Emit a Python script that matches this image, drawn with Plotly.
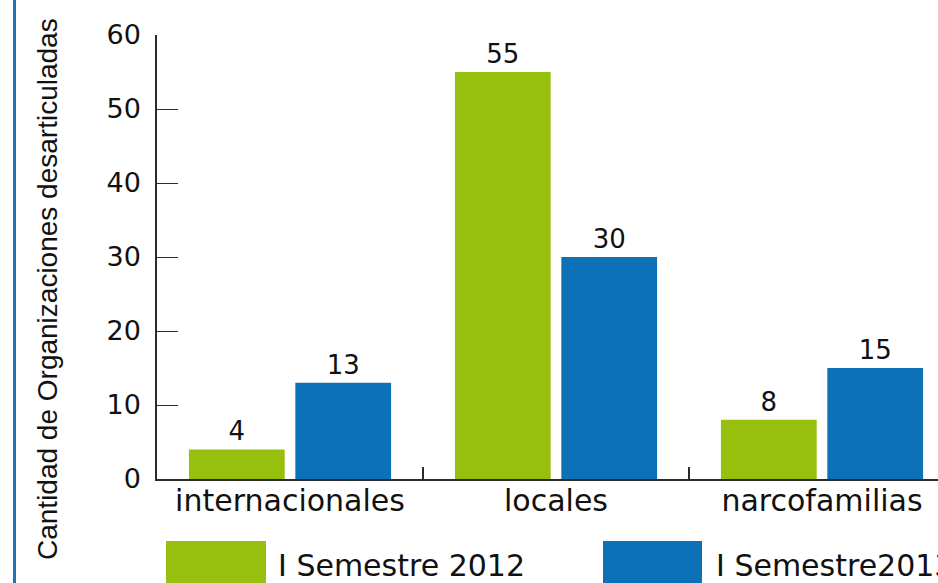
import plotly.graph_objects as go

# Data
categories = ["internacionales", "locales", "narcofamilias"]
series_names = ["I Semestre 2012", "I Semestre2013"]
values_2012 = [4, 55, 8]
values_2013 = [13, 30, 15]

COLORS = {
    "green": "#97BF0D",
    "blue": "#0C71B6",
    "border": "#1B75BB",
    "axis": "#2B2B2B",
    "text": "#111111",
}

W, H = 938, 583
L, R, T, B = 157, 0, 35, 104
PLOT_W = W - L - R
PLOT_H = H - T - B
MAIN_FONT = "DejaVu Sans, Open Sans, sans-serif"
TITLE_FONT = "Liberation Sans, Arial, sans-serif"


def px_x(x):
    # pixel -> paper x
    return (x - L) / PLOT_W


def px_y(y):
    # pixel -> paper y
    return (H - B - y) / PLOT_H


fig = go.Figure()
for name, vals, col in [(series_names[0], values_2012, COLORS["green"]),
                        (series_names[1], values_2013, COLORS["blue"])]:
    fig.add_trace(go.Bar(
        x=categories,
        y=vals,
        name=name,
        marker=dict(color=col, line=dict(width=0)),
        text=[str(v) for v in vals],
        textposition="outside",
        textfont=dict(family=MAIN_FONT, size=26, color=COLORS["text"]),
        cliponaxis=False,
        showlegend=False,
    ))

fig.update_layout(
    width=W,
    height=H,
    margin=dict(l=L, r=R, t=T, b=B, pad=0),
    paper_bgcolor="white",
    plot_bgcolor="white",
    barmode="group",
    bargap=0.2,
    bargroupgap=0.1,
    font=dict(family=MAIN_FONT, color=COLORS["text"]),
)

fig.update_xaxes(
    type="category",
    range=[-0.5, -0.5 + PLOT_W / 266.0],
    tickson="boundaries",
    ticks="inside",
    ticklen=12,
    tickwidth=1.5,
    tickcolor=COLORS["axis"],
    showline=True,
    linecolor=COLORS["axis"],
    linewidth=2,
    showgrid=False,
    zeroline=False,
    tickfont=dict(family=MAIN_FONT, size=30, color=COLORS["text"]),
    ticklabelstandoff=-6,
)

fig.update_yaxes(
    range=[0, 60],
    dtick=10,
    ticks="inside",
    ticklen=21,
    tickwidth=1,
    tickcolor=COLORS["axis"],
    showline=True,
    linecolor=COLORS["axis"],
    linewidth=1.5,
    showgrid=False,
    zeroline=False,
    tickfont=dict(family=MAIN_FONT, size=27, color=COLORS["text"]),
    ticklabelstandoff=9,
)

# left border line
fig.add_shape(type="line", xref="paper", yref="paper",
              x0=px_x(14.5), x1=px_x(14.5), y0=px_y(H + 5), y1=px_y(-5),
              line=dict(color=COLORS["border"], width=3))

# y axis title
fig.add_annotation(
    text="Cantidad de Organizaciones desarticuladas",
    xref="paper", yref="paper",
    x=px_x(47), y=px_y(289),
    xanchor="center", yanchor="middle",
    textangle=-90, showarrow=False,
    font=dict(family=TITLE_FONT, size=28, color=COLORS["text"]),
)

# legend drawn as big swatches (cut at bottom edge like the original)
legend_items = [
    (series_names[0], COLORS["green"], 166, 266, 276),
    (series_names[1], COLORS["blue"], 603, 702, 714),
]
for name, col, x0, x1, tx in legend_items:
    fig.add_shape(type="rect", xref="paper", yref="paper",
                  x0=px_x(x0), x1=px_x(x1), y0=px_y(H + 10), y1=px_y(541),
                  fillcolor=col, line=dict(width=0))
    fig.add_annotation(
        text=name, xref="paper", yref="paper",
        x=px_x(tx), y=px_y(565),
        xanchor="left", yanchor="middle", showarrow=False,
        font=dict(family=MAIN_FONT, size=30, color=COLORS["text"]),
    )

fig.write_html("out.html", config={"displayModeBar": False},
               post_script="document.body.style.margin='0';")
